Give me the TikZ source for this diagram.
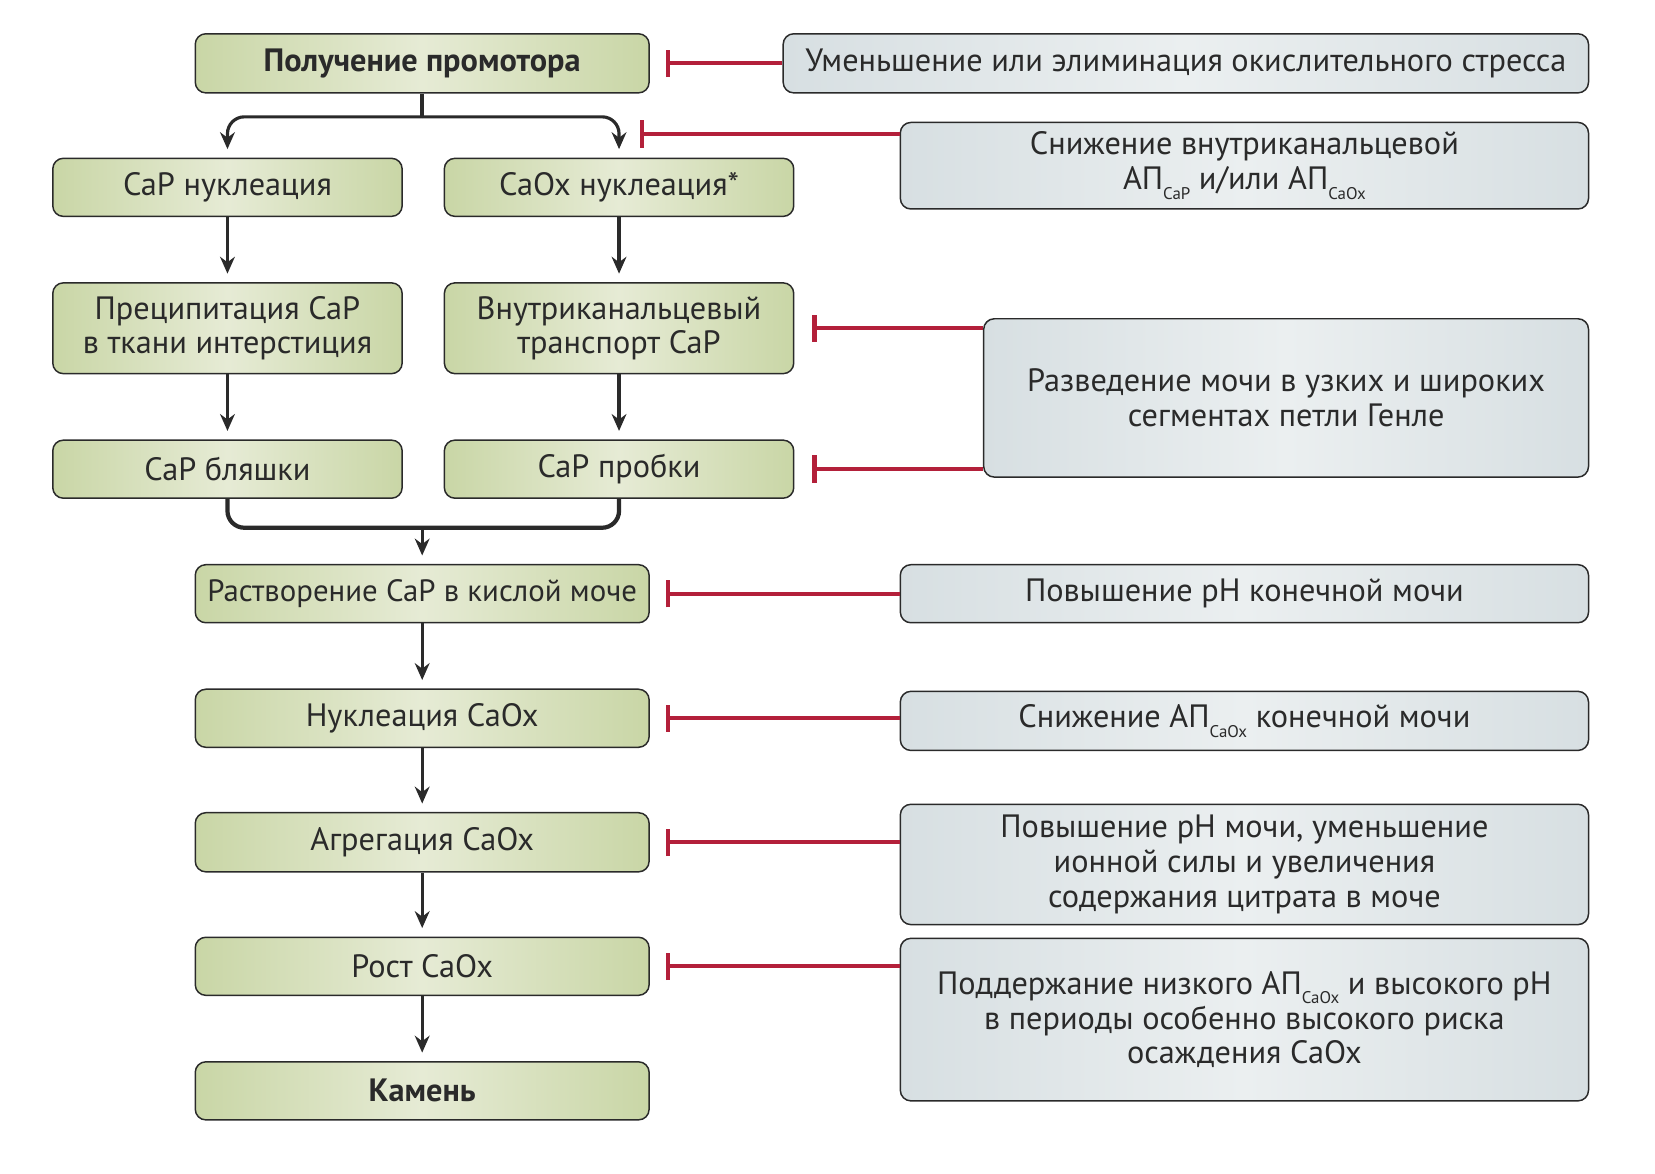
\documentclass[tikz,border=0pt]{standalone}
\usepackage{fontspec}
\setmainfont{PT Sans}
\usetikzlibrary{arrows.meta}
\definecolor{stageedge}{HTML}{C9D6A6}
\definecolor{stagemid}{HTML}{E6EBD5}
\definecolor{measedge}{HTML}{D7DFE2}
\definecolor{measmid}{HTML}{EBEFF0}
\definecolor{inhibred}{HTML}{B3203A}
\definecolor{inkgrey}{HTML}{2A2A2A}
\newcommand{\apsub}[1]{АП\raisebox{-0.6ex}{\fontsize{8}{8}\selectfont #1}}
\begin{document}
\begin{tikzpicture}[x=0.5pt,y=-0.5pt,
    box/.style={draw=inkgrey,line width=0.7pt,rounded corners=5pt,align=center,
      inner xsep=0pt,inner ysep=2pt,font=\fontsize{15.3}{16.5}\selectfont,text=inkgrey},
    stage/.style={box,left color=stageedge,right color=stageedge,middle color=stagemid},
    measure/.style={box,left color=measedge,right color=measedge,middle color=measmid},
    flow/.style={draw=inkgrey,line width=1.5pt,-{Stealth[length=8pt,width=7pt]},shorten >=4pt},
    fork/.style={draw=inkgrey,line width=2pt,rounded corners=8pt},
    inhib/.style={draw=inhibred,line width=2pt,-{Bar[width=13pt,line width=2pt]}}]
\useasboundingbox (0,0) rectangle (1568,1112);

\node[stage,minimum width=215pt,minimum height=28pt] (prom) at (400,60) {\textbf{Получение промотора}};
\node[stage,minimum width=165.5pt,minimum height=27.5pt] (capn) at (215.5,177.5) {CaP нуклеация};
\node[stage,minimum width=165.5pt,minimum height=27.5pt] (caoxn) at (586.5,177.5) {CaOx нуклеация*};
\node[stage,minimum width=165.5pt,minimum height=43pt] (prec) at (215.5,311) {Преципитация CaP\\в ткани интерстиция};
\node[stage,minimum width=165.5pt,minimum height=43pt] (trans) at (586.5,311) {Внутриканальцевый\\транспорт CaP};
\node[stage,minimum width=165.5pt,minimum height=27.5pt] (plaq) at (215.5,444.5) {CaP бляшки};
\node[stage,minimum width=165.5pt,minimum height=27.5pt] (plug) at (586.5,444.5) {CaP пробки};
\node[stage,minimum width=215pt,minimum height=27.5pt,font=\fontsize{14.6}{16.5}\selectfont] (diss) at (400,562.5) {Растворение CaP в кислой моче};
\node[stage,minimum width=215pt,minimum height=27.5pt] (nucl) at (400,680.5) {Нуклеация CaOx};
\node[stage,minimum width=215pt,minimum height=28pt] (aggr) at (400,798) {Агрегация CaOx};
\node[stage,minimum width=215pt,minimum height=27.5pt] (grow) at (400,915.5) {Рост CaOx};
\node[stage,minimum width=215pt,minimum height=27.5pt] (stone) at (400,1033.5) {\textbf{Камень}};

\node[measure,minimum width=381.5pt,minimum height=28pt] (stress) at (1123.5,60) {Уменьшение или элиминация окислительного стресса};
\node[measure,minimum width=326pt,minimum height=41pt] (intra) at (1179,157) {Снижение внутриканальцевой\\\apsub{CaP} и/или \apsub{CaOx}};
\node[measure,minimum width=286.5pt,minimum height=75pt] (henle) at (1218.5,377) {Разведение мочи в узких и широких\\сегментах петли Генле};
\node[measure,minimum width=326pt,minimum height=27.5pt] (phup) at (1179,562.5) {Повышение pH конечной мочи};
\node[measure,minimum width=326pt,minimum height=28pt] (aplow) at (1179,683) {Снижение \apsub{CaOx} конечной мочи};
\node[measure,minimum width=326pt,minimum height=57pt] (ionic) at (1179,819) {Повышение pH мочи, уменьшение\\ионной силы и увеличения\\содержания цитрата в моче};
\node[measure,minimum width=326pt,minimum height=77pt] (risk) at (1179,966) {Поддержание низкого \apsub{CaOx} и высокого pH\\в периоды особенно высокого риска\\осаждения CaOx};

\draw[fork] (prom.south) -- ++(0,22) coordinate (split);
\draw[fork,flow] (split) -| (capn.north);
\draw[fork,flow] (split) -| (caoxn.north);
\draw[flow] (capn) -- (prec);
\draw[flow] (caoxn) -- (trans);
\draw[flow] (prec) -- (plaq);
\draw[flow] (trans) -- (plug);
\coordinate (join) at (400,500);
\draw[fork] (plaq.south) |- (join) -| (plug.south);
\draw[flow] (join) -- (diss);
\draw[flow] (diss) -- (nucl);
\draw[flow] (nucl) -- (aggr);
\draw[flow] (aggr) -- (grow);
\draw[flow] (grow) -- (stone);

\draw[inhib] (stress.west) -- ([xshift=7.5pt]prom.east);
\draw[inhib] ([yshift=15pt]intra.west) -- ([xshift=10pt,yshift=15pt]intra.west -| caoxn.north);
\draw[inhib] (henle.west |- trans.east) -- ([xshift=8.5pt]trans.east);
\draw[inhib] (henle.west |- plug.east) -- ([xshift=8.5pt]plug.east);
\draw[inhib] (phup.west) -- ([xshift=7.5pt]diss.east);
\draw[inhib] (aplow.west |- nucl.east) -- ([xshift=7.5pt]nucl.east);
\draw[inhib] (ionic.west |- aggr.east) -- ([xshift=7.5pt]aggr.east);
\draw[inhib] (risk.west |- grow.east) -- ([xshift=7.5pt]grow.east);
\end{tikzpicture}
\end{document}
